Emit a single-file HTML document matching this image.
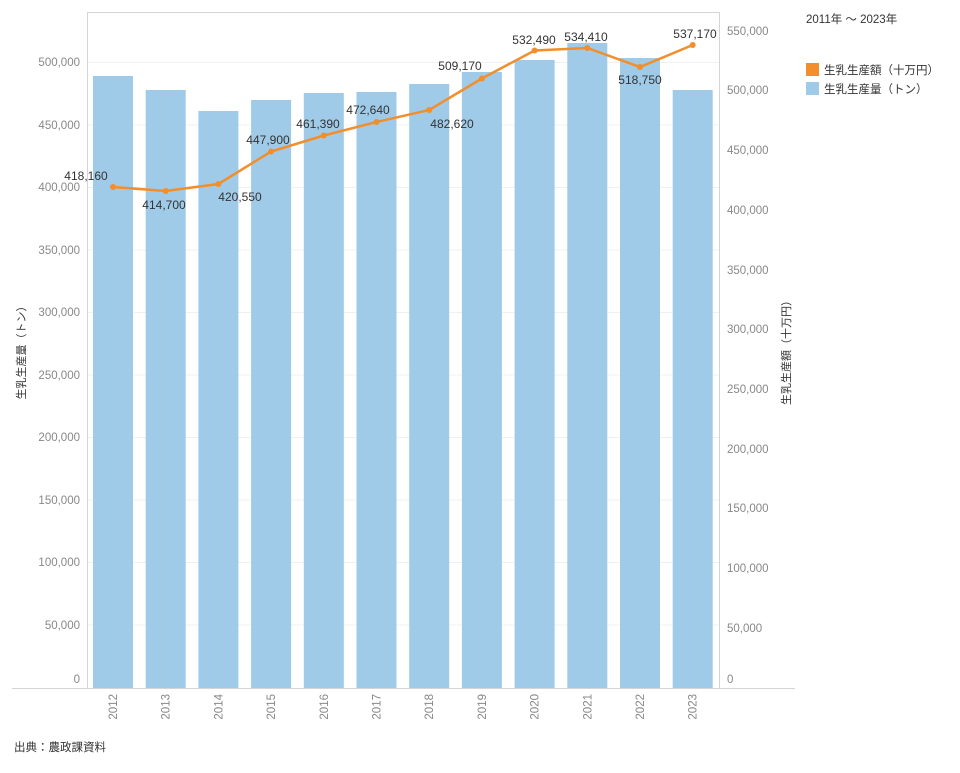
<!DOCTYPE html>
<html><head><meta charset="utf-8"><style>
body{margin:0;background:#fff;}
svg text{font-family:"Liberation Sans","Noto Sans CJK JP",sans-serif;}
</style></head><body>
<svg width="960" height="768" xmlns="http://www.w3.org/2000/svg">
<g stroke="#f0f0f0" stroke-width="1">
<line x1="87" y1="62.5" x2="719" y2="62.5"/><line x1="87" y1="125" x2="719" y2="125"/>
<line x1="87" y1="187.5" x2="719" y2="187.5"/><line x1="87" y1="250" x2="719" y2="250"/>
<line x1="87" y1="312.5" x2="719" y2="312.5"/><line x1="87" y1="375" x2="719" y2="375"/>
<line x1="87" y1="437.5" x2="719" y2="437.5"/><line x1="87" y1="500" x2="719" y2="500"/>
<line x1="87" y1="562.5" x2="719" y2="562.5"/><line x1="87" y1="625" x2="719" y2="625"/>
</g>
<g fill="#a0cbe8">
<rect x="93" y="76" width="40" height="612"/>
<rect x="145.7" y="90" width="40" height="598"/>
<rect x="198.4" y="111" width="40" height="577"/>
<rect x="251.1" y="100" width="40" height="588"/>
<rect x="303.8" y="93" width="40" height="595"/>
<rect x="356.5" y="92" width="40" height="596"/>
<rect x="409.2" y="84" width="40" height="604"/>
<rect x="461.9" y="72" width="40" height="616"/>
<rect x="514.6" y="60" width="40" height="628"/>
<rect x="567.3" y="43" width="40" height="645"/>
<rect x="620" y="58" width="40" height="630"/>
<rect x="672.7" y="90" width="40" height="598"/>
</g>
<g stroke="#d4d4d4" stroke-width="1" fill="none">
<line x1="87.5" y1="12" x2="87.5" y2="688"/>
<line x1="719.5" y1="12" x2="719.5" y2="688"/>
<line x1="87" y1="12.5" x2="719" y2="12.5"/>
<line x1="12" y1="688.5" x2="795" y2="688.5"/>
</g>
<polyline fill="none" stroke="#f28e2b" stroke-width="2.5" points="113,187 165.7,191 218.4,184 271.1,151.5 323.8,135.5 376.5,122 429.2,110 481.9,78.5 534.6,50.5 587.3,48 640,67 692.7,45"/>
<g fill="#f28e2b">
<circle cx="113" cy="187" r="3"/><circle cx="165.7" cy="191" r="3"/><circle cx="218.4" cy="184" r="3"/><circle cx="271.1" cy="151.5" r="3"/><circle cx="323.8" cy="135.5" r="3"/><circle cx="376.5" cy="122" r="3"/><circle cx="429.2" cy="110" r="3"/><circle cx="481.9" cy="78.5" r="3"/><circle cx="534.6" cy="50.5" r="3"/><circle cx="587.3" cy="48" r="3"/><circle cx="640" cy="67" r="3"/><circle cx="692.7" cy="45" r="3"/>
</g>
<g font-size="12" fill="#333" text-anchor="middle">
<text x="86" y="180">418,160</text><text x="164" y="209">414,700</text><text x="240" y="201">420,550</text>
<text x="268" y="144">447,900</text><text x="318" y="128">461,390</text><text x="368" y="114">472,640</text>
<text x="452" y="128">482,620</text><text x="460" y="70">509,170</text><text x="534" y="44">532,490</text>
<text x="586" y="41">534,410</text><text x="640" y="84">518,750</text><text x="695" y="38">537,170</text>
</g>
<g font-size="11.5" fill="#888" text-anchor="end">
<text x="80" y="66">500,000</text><text x="80" y="129">450,000</text><text x="80" y="191">400,000</text>
<text x="80" y="254">350,000</text><text x="80" y="316">300,000</text><text x="80" y="379">250,000</text>
<text x="80" y="441">200,000</text><text x="80" y="504">150,000</text><text x="80" y="566">100,000</text>
<text x="80" y="629">50,000</text><text x="80" y="683">0</text>
</g>
<g font-size="11.5" fill="#888" text-anchor="start">
<text x="727" y="35">550,000</text><text x="727" y="94">500,000</text><text x="727" y="154">450,000</text>
<text x="727" y="214">400,000</text><text x="727" y="274">350,000</text><text x="727" y="333">300,000</text>
<text x="727" y="393">250,000</text><text x="727" y="453">200,000</text><text x="727" y="512">150,000</text>
<text x="727" y="572">100,000</text><text x="727" y="632">50,000</text><text x="727" y="683">0</text>
</g>
<g font-size="11.5" fill="#888" text-anchor="end">
<text transform="translate(117,694) rotate(-90)">2012</text><text transform="translate(169.7,694) rotate(-90)">2013</text>
<text transform="translate(222.4,694) rotate(-90)">2014</text><text transform="translate(275.1,694) rotate(-90)">2015</text>
<text transform="translate(327.8,694) rotate(-90)">2016</text><text transform="translate(380.5,694) rotate(-90)">2017</text>
<text transform="translate(433.2,694) rotate(-90)">2018</text><text transform="translate(485.9,694) rotate(-90)">2019</text>
<text transform="translate(538.6,694) rotate(-90)">2020</text><text transform="translate(591.3,694) rotate(-90)">2021</text>
<text transform="translate(644,694) rotate(-90)">2022</text><text transform="translate(696.7,694) rotate(-90)">2023</text>
</g>
<text transform="translate(25,350) rotate(-90)" font-size="11" fill="#333" text-anchor="middle">生乳生産量（トン）</text>
<text transform="translate(790,350) rotate(-90)" font-size="11" fill="#333" text-anchor="middle">生乳生産額（十万円）</text>
<text x="806" y="23" font-size="11.5" fill="#333">2011年 ～ 2023年</text>
<rect x="806" y="63" width="13" height="13" fill="#f28e2b"/>
<text x="824" y="74" font-size="11.5" fill="#333">生乳生産額（十万円）</text>
<rect x="806" y="82" width="13" height="13" fill="#a0cbe8"/>
<text x="824" y="93" font-size="11.5" fill="#333">生乳生産量（トン）</text>
<text x="14" y="751" font-size="11.5" fill="#333">出典：農政課資料</text>
</svg>
</body></html>
